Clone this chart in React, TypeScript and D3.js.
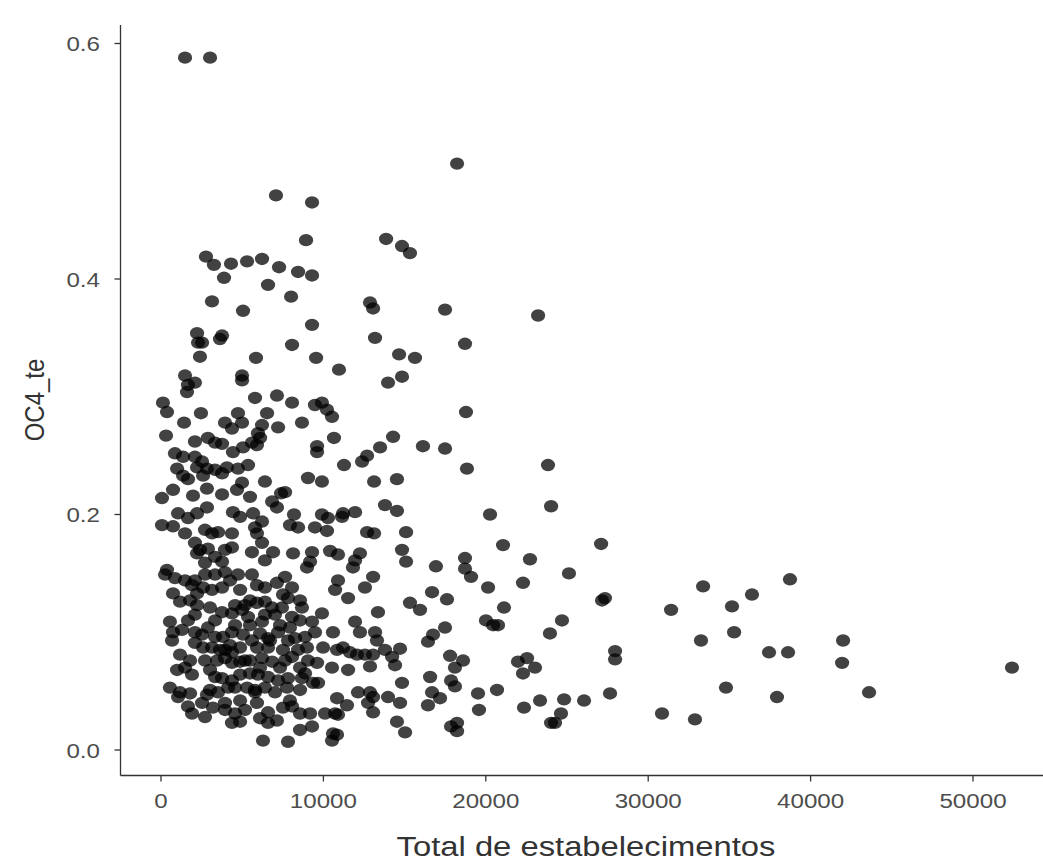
import React from "react";
import * as d3 from "d3";

const W = 1043;
const H = 861;
const SX = 1.15; // the source picture is stretched horizontally
const FONT = "'Liberation Sans', Arial, Helvetica, sans-serif";

const xTicks = [0, 10000, 20000, 30000, 40000, 50000];
const yTicks = [0, 0.2, 0.4, 0.6];
const xLabel = "Total de estabelecimentos";
const yLabel = "OC4_te";

// [Total de estabelecimentos, OC4_te]
const upperPoints: [number, number][] = [
  [1480,0.588],[3020,0.588],[18230,0.498],[7080,0.471],[9300,0.465],[8930,0.433],[13860,0.434],[14840,0.428],[15330,0.422],[2770,0.419],[3260,0.412],[4310,0.413],[5300,0.415],[6220,0.417],[7270,0.410],[8440,0.406],[9300,0.403],[3880,0.401],[6590,0.395],[3140,0.381],[8010,0.385],[5050,0.373],[12870,0.380],[13060,0.375],[17490,0.374],[23220,0.369],[2220,0.354],[2530,0.346],[2280,0.346],[3760,0.352],[3630,0.349],[9300,0.361],[8070,0.344],[13180,0.350],[18720,0.345],[2400,0.334],[5850,0.333],[9550,0.333],[10960,0.323],[14660,0.336],[15640,0.333],[1480,0.318],[1660,0.310],[1600,0.304],[2090,0.312],[4990,0.318],[4990,0.314],[13980,0.312],[14840,0.317],[18780,0.287],
];

const middlePoints: [number, number][] = [
  [5790,0.299],[7140,0.301],[8070,0.295],[9480,0.293],[9910,0.295],[10220,0.289],[10530,0.283],[8680,0.278],[120,0.295],[370,0.287],[2460,0.286],[1420,0.278],[4740,0.286],[3940,0.278],[4370,0.273],[4990,0.278],[6530,0.286],[6220,0.276],[5970,0.269],[7210,0.274],[310,0.267],[2090,0.262],[2890,0.265],[3330,0.261],[3760,0.260],[4430,0.253],[5050,0.257],[5600,0.261],[6100,0.265],[5910,0.259],[10650,0.265],[9610,0.258],[9610,0.253],[14290,0.266],[13490,0.257],[16130,0.258],[17490,0.256],[12690,0.250],[12380,0.245],[11270,0.242],[860,0.252],[1360,0.249],[2090,0.249],[2530,0.245],[2220,0.240],[2830,0.239],[3330,0.238],[3760,0.235],[4060,0.240],[4740,0.239],[5360,0.242],[990,0.239],[1360,0.233],[1660,0.230],[2590,0.233],[18840,0.239],[23830,0.242],[9050,0.231],[9910,0.228],[13120,0.228],[14530,0.230],[6400,0.228],[7390,0.218],[6840,0.211],[7140,0.206],[7640,0.219],[740,0.221],[60,0.214],[1970,0.216],[2830,0.222],[3760,0.217],[4680,0.221],[4990,0.227],[5480,0.215],[24020,0.207],[20260,0.200],[13790,0.208],[14530,0.203],[1050,0.201],[1660,0.197],[2220,0.201],[2830,0.206],[4430,0.202],[4870,0.198],[5670,0.201],[6220,0.194],[5790,0.189],[8190,0.200],[7940,0.191],[8440,0.189],[9910,0.200],[10280,0.197],[9480,0.189],[10220,0.186],[11210,0.201],[11950,0.202],[11150,0.198],[12690,0.185],[13120,0.184],[15090,0.185],[60,0.191],[740,0.190],[1480,0.184],[2710,0.187],[3140,0.184],[3510,0.185],[4370,0.184],[5910,0.184],[21060,0.174],[27100,0.175],[2090,0.176],[2400,0.170],[2890,0.171],[2220,0.167],[3940,0.170],[4370,0.172],[3330,0.164],[3760,0.160],[2710,0.159],[5600,0.168],[6220,0.176],[6900,0.168],[6400,0.161],[8130,0.167],[9300,0.168],[9180,0.160],[8990,0.155],[10410,0.169],[10900,0.166],[12250,0.167],[11950,0.161],[11820,0.155],[14840,0.170],[15090,0.160],[16930,0.156],[18720,0.163],[22720,0.162],[18720,0.154],[19090,0.147],[25120,0.150],[22290,0.142],[20140,0.138],[370,0.153],
];

const lowerLeftPoints: [number, number][] = [
  [250,0.149],[860,0.146],[1480,0.144],[3940,0.151],[2710,0.149],[3330,0.149],[1910,0.140],[2220,0.133],[2590,0.138],[3140,0.136],[3760,0.138],[4250,0.144],[4740,0.149],[5600,0.149],[5910,0.140],[6400,0.138],[7140,0.142],[7640,0.147],[8070,0.138],[740,0.133],[1170,0.126],[1790,0.127],[2220,0.123],[3020,0.121],[3760,0.117],[4370,0.116],[4990,0.119],[5360,0.113],[5910,0.125],[6400,0.126],[6840,0.121],[7450,0.121],[7820,0.129],[7020,0.115],[8070,0.113],[550,0.109],[1660,0.110],[740,0.100],[680,0.093],[1290,0.102],[2090,0.100],[2530,0.098],[2890,0.104],[3330,0.096],[3820,0.096],[4370,0.100],[5050,0.098],[5600,0.093],[6100,0.099],[6590,0.095],[7210,0.100],[7820,0.093],[8250,0.095],[2090,0.091],[2590,0.087],[3140,0.087],[3630,0.085],[4370,0.083],[4870,0.087],[5910,0.087],[6590,0.087],[7510,0.085],[1170,0.081],[1790,0.076],[2710,0.076],[3450,0.076],[3940,0.078],[4370,0.074],[4870,0.075],[5480,0.076],[6220,0.078],[6840,0.075],[7640,0.076],[8070,0.079],[990,0.068],[1480,0.070],[1910,0.064],[3330,0.062],[3760,0.061],[4370,0.059],[4870,0.064],[5480,0.065],[5970,0.064],[6590,0.062],[7210,0.059],[7820,0.061],[550,0.053],[1170,0.049],[1790,0.048],[2830,0.047],[3510,0.049],[4130,0.053],[4560,0.053],[5300,0.053],[5790,0.049],[6400,0.053],[7020,0.049],[7760,0.053],[1050,0.045],[1660,0.037],[1910,0.031],[2530,0.040],[3200,0.036],[3940,0.040],[4560,0.031],[5170,0.034],[5910,0.040],[6590,0.032],[7510,0.036],[8070,0.037],[2710,0.028],[4370,0.023],[4870,0.024],[6590,0.023],[7140,0.025],[6280,0.008],[7820,0.007],
];

// points hidden in the darkest part of the cloud
const densePoints: [number, number][] = [
  [3330,0.110],[4560,0.106],[5480,0.127],[6400,0.115],[7330,0.106],[8560,0.110],[5170,0.076],[6100,0.070],[7330,0.070],[8560,0.070],[3020,0.051],[4870,0.042],[3940,0.034],[6100,0.027],[8560,0.051],[3020,0.068],[2090,0.144],[4870,0.136],[8560,0.127],[6710,0.093],[4250,0.089],[2090,0.115],[5480,0.106],[7940,0.042],
  [5170,0.123],[6220,0.109],[7940,0.104],[4560,0.123],[7510,0.132],[5790,0.051],[3940,0.085],
];

const lowerMidPoints: [number, number][] = [
  [10900,0.144],[10720,0.136],[11520,0.129],[13060,0.147],[12560,0.138],[16690,0.134],[17610,0.128],[15330,0.125],[15950,0.119],[13360,0.117],[8680,0.121],[9910,0.116],[9300,0.109],[11950,0.109],[12250,0.100],[13180,0.100],[13300,0.093],[10590,0.100],[17490,0.104],[16750,0.098],[16440,0.092],[9480,0.100],[8870,0.096],[8990,0.087],[8440,0.085],[9980,0.087],[10840,0.085],[11210,0.087],[11640,0.083],[12070,0.081],[12560,0.081],[13060,0.081],[13790,0.085],[14720,0.086],[14230,0.079],[14410,0.072],[12870,0.071],[11520,0.068],[10530,0.070],[9610,0.074],[9050,0.076],[8870,0.065],[8680,0.061],[16570,0.062],[14840,0.057],[12130,0.049],[12870,0.049],[13060,0.045],[12750,0.040],[13060,0.032],[10840,0.044],[11450,0.038],[13980,0.045],[14720,0.040],[9670,0.057],[9360,0.057],[16690,0.049],[17180,0.044],[16440,0.038],[8560,0.031],[9180,0.031],[10100,0.031],[10720,0.031],[10900,0.030],[14530,0.024],[15030,0.015],[8560,0.017],[9300,0.020],[10590,0.014],[10530,0.008],[10840,0.013],
];

const rightPoints: [number, number][] = [
  [38730,0.145],[33380,0.139],[36390,0.132],[35160,0.122],[31410,0.119],[27160,0.127],[27340,0.129],[21120,0.121],[20010,0.110],[20450,0.106],[20750,0.106],[24690,0.110],[23950,0.099],[35290,0.100],[33250,0.093],[42000,0.093],[37440,0.083],[38610,0.083],[27960,0.084],[27960,0.077],[41940,0.074],[52400,0.070],[17800,0.080],[18600,0.076],[18100,0.070],[21980,0.075],[22540,0.078],[23030,0.070],[22290,0.065],[17860,0.059],[18100,0.054],[19520,0.048],[20690,0.051],[19580,0.034],[22350,0.036],[23340,0.042],[24820,0.043],[26050,0.042],[27650,0.048],[24630,0.031],[24020,0.023],[24260,0.023],[30850,0.031],[32880,0.026],[34790,0.053],[37930,0.045],[43600,0.049],[18230,0.023],[18230,0.016],[17860,0.020],
];

function SText(props: {
  x: number; y: number; rotate?: number; anchor?: string; size: number; fill: string; dy?: string; children: React.ReactNode;
}) {
  const { x, y, rotate = 0, anchor = "start", size, fill, dy, children } = props;
  return (
    <text
      transform={`translate(${x},${y}) scale(${SX},1) rotate(${rotate})`}
      textAnchor={anchor}
      fontFamily={FONT}
      fontSize={size}
      fill={fill}
      dy={dy}
    >
      {children}
    </text>
  );
}

export default function App() {
  const x = d3.scaleLinear().domain([0, 50000]).range([161, 973]);
  const y = d3.scaleLinear().domain([0, 0.6]).range([750, 43.5]);
  const points = [...upperPoints, ...middlePoints, ...lowerLeftPoints, ...densePoints, ...lowerMidPoints, ...rightPoints];
  const left = 120.5;
  const bottom = 775.5;
  const top = 25;
  const fx = d3.format("d");
  const fy = d3.format(".1f");

  return (
    <svg width={W} height={H} style={{ position: "absolute", left: 0, top: 0, background: "#fff" }}>
      <rect x={0} y={0} width={W} height={H} fill="#fff" />
      <g>
        {points.map((p, i) => (
          <ellipse key={i} cx={x(p[0])} cy={y(p[1])} rx={7.1} ry={6.2} fill="#000" fillOpacity={0.74} />
        ))}
      </g>
      <line x1={left} x2={left} y1={top} y2={bottom} stroke="#333" strokeWidth={1.3} />
      <line x1={left} x2={W} y1={bottom} y2={bottom} stroke="#333" strokeWidth={1.3} />
      {yTicks.map((t) => (
        <g key={"y" + t}>
          <line x1={left - 6} x2={left} y1={y(t)} y2={y(t)} stroke="#333" strokeWidth={1.3} />
          <SText x={100} y={y(t)} anchor="end" size={21} fill="#4d4d4d" dy="0.37em">
            {fy(t)}
          </SText>
        </g>
      ))}
      {xTicks.map((t) => (
        <g key={"x" + t}>
          <line x1={x(t)} x2={x(t)} y1={bottom} y2={bottom + 6} stroke="#333" strokeWidth={1.3} />
          <SText x={x(t)} y={808} anchor="middle" size={21} fill="#4d4d4d">
            {fx(t)}
          </SText>
        </g>
      ))}
      <SText x={586} y={856} anchor="middle" size={28.5} fill="#333">
        {xLabel}
      </SText>
      <SText x={44} y={400} anchor="middle" size={24} fill="#333" rotate={-90}>
        {yLabel}
      </SText>
    </svg>
  );
}
